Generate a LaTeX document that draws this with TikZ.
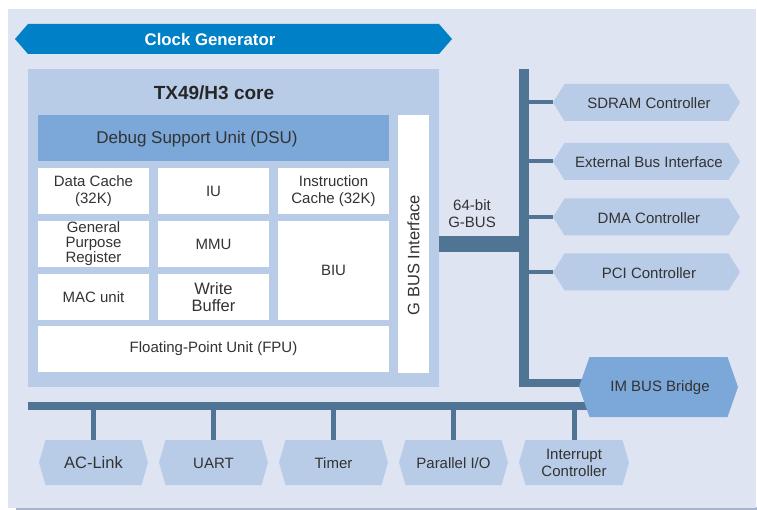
\documentclass[tikz,border=0pt]{standalone}
\usepackage{fontspec}
\setmainfont{Liberation Sans}
\definecolor{panelcol}{HTML}{DFE4F2}
\definecolor{shadowcol}{HTML}{A9B3C9}
\definecolor{corecol}{HTML}{B8CCE7}
\definecolor{darkcol}{HTML}{7BA7D9}
\definecolor{buscol}{HTML}{507493}
\definecolor{clkcol}{HTML}{0080C6}
\definecolor{txtcol}{HTML}{333333}
\newcommand\myfs[2]{\fontsize{#1}{#2}\selectfont}
% hexagon: name, cx, cy, half-width, half-height, depth, fill
\newcommand\hexshape[7]{%
  \fill[#7] (#2-#4,#3) -- (#2-#4+#6,#3-#5) -- (#2+#4-#6,#3-#5) -- (#2+#4,#3)
     -- (#2+#4-#6,#3+#5) -- (#2-#4+#6,#3+#5) -- cycle;
  \node[inner sep=0pt, minimum width=2*#4, minimum height=2*#5] (#1) at (#2,#3) {};}
\begin{document}
\begin{tikzpicture}[x=1pt,y=-1pt,
  txt/.style={text=txtcol, font=\myfs{15}{17}, align=center, inner sep=0pt},
  cellbox/.style={fill=white, inner sep=0pt, text=txtcol, font=\myfs{15}{17}, align=center},
  busfill/.style={fill=buscol, inner sep=0pt},
  rstub/.style={draw=buscol, line width=4pt},
  bstub/.style={draw=buscol, line width=5pt},
]
\useasboundingbox (0,0) rectangle (757,510);
% background panel
\fill[white] (0,0) rectangle (757,510);
\fill[shadowcol] (16,507) rectangle (757,511);
\fill[panelcol] (8,9) rectangle (756,508);

% clock generator
\hexshape{clk}{233.5}{39}{218.5}{15}{13}{clkcol}
\node[inner sep=0pt, text=white, font=\bfseries\myfs{16.8}{18}] (clkt) at (210,39.5) {Clock Generator};

% core
\node[fill=corecol, inner sep=0pt, minimum width=411, minimum height=318, anchor=north west] (core) at (28,69) {};
\node[inner sep=0pt, text=black!85, font=\bfseries\myfs{19}{21}] (coret) at (214,93) {TX49/H3 core};
\node[fill=darkcol, inner sep=0pt, minimum width=351, minimum height=46] (dsu) at (213.5,138) {};
\node[txt, font=\myfs{17}{19}] (dsut) at (197,139) {Debug Support Unit (DSU)};

\node[cellbox, minimum width=111, minimum height=46] (dc) at (93.5,191) {Data Cache\\(32K)};
\node[cellbox, minimum width=111, minimum height=46] (iu) at (213.5,191) {IU};
\node[cellbox, minimum width=111, minimum height=46] (ic) at (333.5,191) {Instruction\\Cache (32K)};
\node[cellbox, minimum width=111, minimum height=46, font=\myfs{15}{15}] (gpr) at (93.5,244) {General\\Purpose\\Register};
\node[cellbox, minimum width=111, minimum height=46] (mmu) at (213.5,244) {MMU};
\node[cellbox, minimum width=111, minimum height=99] (biu) at (333.5,270.5) {BIU};
\node[cellbox, minimum width=111, minimum height=46] (mac) at (93.5,297) {MAC unit};
\node[cellbox, minimum width=111, minimum height=46, font=\myfs{16.5}{17}] (wb) at (213.5,297) {Write\\Buffer};
\node[cellbox, minimum width=351, minimum height=46] (fpu) at (213.5,349) {Floating-Point Unit (FPU)};
\node[fill=white, inner sep=0pt, minimum width=31, minimum height=258] (gbi) at (413.5,244) {};
\node[txt, font=\myfs{16.5}{18}, rotate=90] (gbit) at (413.5,255) {G BUS Interface};

% buses
\coordinate (gbY) at (480,244);
\coordinate (brY) at (560,383);
\coordinate (bbY) at (300,406);
\node[busfill, minimum width=10, minimum height=318] (vbus) at (524,228) {};
\draw[buscol, line width=16pt] (core.east |- gbY) -- (vbus.west |- gbY);
\node[txt] (gbust) at (472,213.5) {64-bit\\G-BUS};
\draw[buscol, line width=8pt, shorten >=-12pt] (vbus.west |- brY) -- (658.5,383);
\draw[buscol, line width=8pt] (core.west |- bbY) -- (600,406);

% right peripherals
\hexshape{sdram}{646.5}{102.5}{93.5}{18.5}{11.5}{corecol}
\hexshape{ebi}{646.5}{161.5}{93.5}{18.5}{11.5}{corecol}
\hexshape{dma}{646.5}{217}{93.5}{18.5}{11.5}{corecol}
\hexshape{pci}{646.5}{272}{93.5}{18.5}{11.5}{corecol}
\node[txt] (sdramt) at (649,103.5) {SDRAM Controller};
\node[txt] (ebit) at (649,162.5) {External Bus Interface};
\node[txt] (dmat) at (649,218) {DMA Controller};
\node[txt] (pcit) at (649,273) {PCI Controller};
\foreach \n in {sdram,ebi,dma,pci}
  \draw[rstub] (vbus.east |- \n.west) -- (\n.west);

% IM bus bridge
\hexshape{bridge}{658.5}{387}{79.5}{30}{10.5}{darkcol}
\node[txt] (bridget) at (660,387.5) {IM BUS Bridge};

% bottom peripherals
\hexshape{acl}{93.5}{462.5}{54.5}{22.5}{6.5}{corecol}
\hexshape{uart}{213.5}{462.5}{54.5}{22.5}{6.5}{corecol}
\hexshape{timer}{333.5}{462.5}{54.5}{22.5}{6.5}{corecol}
\hexshape{pio}{453.5}{462.5}{54.5}{22.5}{6.5}{corecol}
\hexshape{intc}{574}{462.5}{55}{22.5}{6.5}{corecol}
\node[txt, font=\myfs{16.5}{18}] (aclt) at (93.5,463) {AC-Link};
\node[txt] (uartt) at (213.5,463) {UART};
\node[txt] (timert) at (333.5,463) {Timer};
\node[txt] (piot) at (453.5,463) {Parallel I/O};
\node[txt, font=\myfs{15}{16.5}] (intct) at (574,463) {Interrupt\\Controller};
\foreach \n in {acl,uart,timer,pio,intc}
  \draw[bstub] (\n.north |- bbY) -- (\n.north);
\end{tikzpicture}
\end{document}
